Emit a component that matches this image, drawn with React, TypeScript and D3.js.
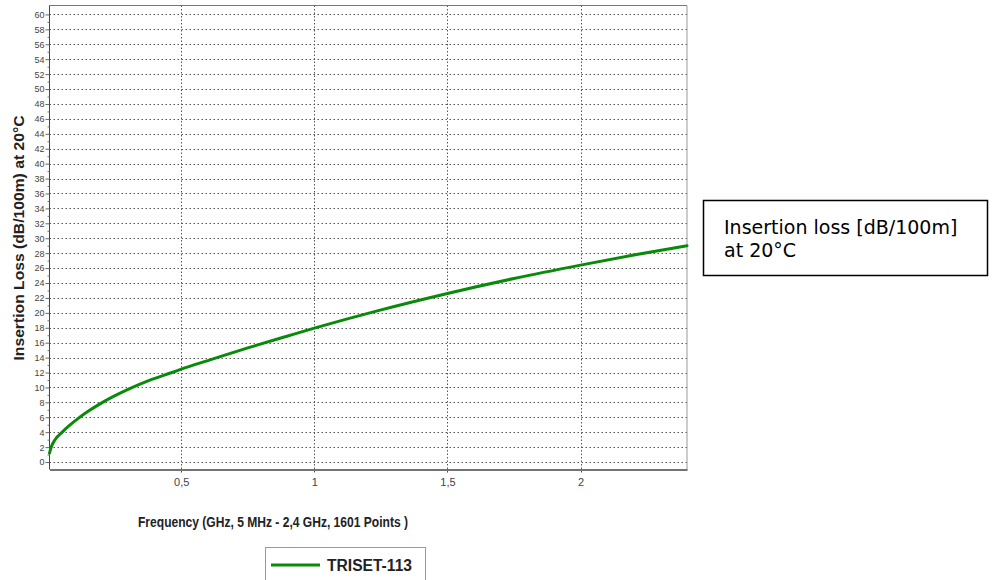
import React, { useEffect, useRef } from 'react';
import * as d3 from 'd3';

const freqGHz = [0.005, 0.011, 0.025, 0.051, 0.08, 0.113, 0.15, 0.19, 0.24, 0.3, 0.38, 0.465, 0.5, 0.6, 0.75, 0.9, 1.0, 1.24, 1.5, 1.75, 2.0, 2.2, 2.4];
const lossDb = [1.2, 1.95, 2.95, 3.95, 4.9, 5.85, 6.8, 7.7, 8.7, 9.75, 10.95, 12.0, 12.45, 13.6, 15.3, 16.9, 17.95, 20.3, 22.6, 24.6, 26.4, 27.75, 29.0];

const yTicks = [0, 2, 4, 6, 8, 10, 12, 14, 16, 18, 20, 22, 24, 26, 28, 30, 32, 34, 36, 38, 40, 42, 44, 46, 48, 50, 52, 54, 56, 58, 60];
const yMinorTicks = [1, 3, 5, 7, 9, 11, 13, 15, 17, 19, 21, 23, 25, 27, 29, 31, 33, 35, 37, 39, 41, 43, 45, 47, 49, 51, 53, 55, 57, 59];
const xTicks = [0.5, 1, 1.5, 2];
const xTickLabels = ['0,5', '1', '1,5', '2'];

const seriesName = 'TRISET-113';
const yTitle = 'Insertion Loss (dB/100m) at 20°C';
const xTitle = 'Frequency (GHz, 5 MHz - 2,4 GHz, 1601 Points )';
const noteLines = ['Insertion loss [dB/100m]', 'at 20°C'];

const App = () => {
  const svgRef = useRef<SVGSVGElement>(null);

  useEffect(() => {
    const svg = d3.select(svgRef.current);
    svg.selectAll('*').remove();

    const width = 995;
    const height = 580;
    const plot = { left: 49.5, right: 687, top: 5.5, bottom: 469.5 };
    const green = '#0a8a0a';
    const arial = '"Liberation Sans", Arial, sans-serif';

    const x = d3.scaleLinear().domain([0.005, 2.4]).range([plot.left, plot.right]);
    const y = d3.scaleLinear().domain([-1.0, 61.2]).range([plot.bottom, plot.top]);

    svg.attr('width', width).attr('height', height);

    // grid
    const grid = svg.append('g');
    grid.selectAll('line.h')
      .data(yTicks)
      .enter().append('line')
      .attr('x1', plot.left).attr('x2', plot.right)
      .attr('y1', d => Math.round(y(d)) + 0.5).attr('y2', d => Math.round(y(d)) + 0.5)
      .attr('stroke', '#555').attr('stroke-width', 1).attr('stroke-dasharray', '1.5,2.5');
    grid.selectAll('line.v')
      .data(xTicks)
      .enter().append('line')
      .attr('x1', d => Math.round(x(d)) + 0.5).attr('x2', d => Math.round(x(d)) + 0.5)
      .attr('y1', plot.top).attr('y2', plot.bottom + 4)
      .attr('stroke', '#555').attr('stroke-width', 1).attr('stroke-dasharray', '1.5,2');

    // frame
    svg.append('line').attr('x1', plot.left).attr('x2', plot.right).attr('y1', plot.top).attr('y2', plot.top)
      .attr('stroke', '#777');
    svg.append('line').attr('x1', plot.right).attr('x2', plot.right).attr('y1', plot.top).attr('y2', plot.bottom)
      .attr('stroke', '#999');

    // y axis
    const yAxis = svg.append('g')
      .attr('transform', `translate(${plot.left},0)`)
      .call(d3.axisLeft(y).tickValues(yTicks).tickSize(4).tickPadding(1).tickSizeOuter(0));
    svg.append('g')
      .attr('transform', `translate(${plot.left},0)`)
      .call(d3.axisLeft(y).tickValues(yMinorTicks).tickSize(2).tickFormat(() => '').tickSizeOuter(0))
      .call(g => g.select('.domain').remove())
      .selectAll('line').attr('stroke', '#777');
    yAxis.select('.domain').attr('stroke', '#444').attr('d', `M0,${plot.top}V${plot.bottom}`);
    yAxis.selectAll('line').attr('stroke', '#666');
    yAxis.selectAll('text')
      .attr('fill', '#444')
      .style('font-family', arial)
      .style('font-size', '9px');

    // x axis
    const xAxis = svg.append('g')
      .attr('transform', `translate(0,${plot.bottom})`)
      .call(d3.axisBottom(x).tickValues(xTicks).tickSize(0).tickPadding(9)
        .tickFormat((d, i) => xTickLabels[i]).tickSizeOuter(0));
    xAxis.select('.domain').attr('stroke', '#444').attr('stroke-width', 1.5);
    xAxis.selectAll('text')
      .attr('fill', '#444')
      .style('font-family', arial)
      .style('font-size', '11px');

    // series
    const line = d3.line<number>()
      .x((d, i) => x(freqGHz[i]))
      .y(d => y(d))
      .curve(d3.curveMonotoneX);
    svg.append('path')
      .datum(lossDb)
      .attr('d', line)
      .attr('fill', 'none')
      .attr('stroke', green)
      .attr('stroke-width', 3)
      .attr('stroke-linecap', 'round');

    // titles
    svg.append('text')
      .attr('transform', `translate(24,238) rotate(-90)`)
      .attr('text-anchor', 'middle')
      .attr('fill', '#222')
      .attr('textLength', 245)
      .attr('lengthAdjust', 'spacingAndGlyphs')
      .style('font-family', arial)
      .style('font-weight', 'bold')
      .style('font-size', '15px')
      .text(yTitle);
    svg.append('text')
      .attr('x', 273).attr('y', 527)
      .attr('text-anchor', 'middle')
      .attr('fill', '#222')
      .attr('textLength', 270)
      .attr('lengthAdjust', 'spacingAndGlyphs')
      .style('font-family', arial)
      .style('font-weight', 'bold')
      .style('font-size', '14.5px')
      .text(xTitle);

    // legend
    const legend = svg.append('g');
    legend.append('rect')
      .attr('x', 265.5).attr('y', 547.5).attr('width', 160).attr('height', 40)
      .attr('fill', 'white').attr('stroke', '#999');
    legend.append('line')
      .attr('x1', 271).attr('x2', 320).attr('y1', 565).attr('y2', 565)
      .attr('stroke', green).attr('stroke-width', 3);
    legend.append('text')
      .attr('x', 327).attr('y', 571)
      .attr('fill', '#222')
      .attr('textLength', 85)
      .attr('lengthAdjust', 'spacingAndGlyphs')
      .style('font-family', arial)
      .style('font-weight', 'bold')
      .style('font-size', '16px')
      .text(seriesName);

    // note box
    const note = svg.append('g');
    note.append('rect')
      .attr('x', 703.5).attr('y', 200.5).attr('width', 284).attr('height', 75)
      .attr('fill', 'white').attr('stroke', '#000').attr('stroke-width', 1.5);
    note.selectAll('text')
      .data(noteLines)
      .enter().append('text')
      .attr('x', 724)
      .attr('y', (d, i) => 234 + i * 23)
      .attr('fill', '#000')
      .style('font-family', '"DejaVu Sans", Verdana, sans-serif')
      .style('font-size', '19px')
      .text(d => d);
  }, []);

  return (
    <svg ref={svgRef} width="995" height="580" style={{ position: 'absolute', left: 0, top: 0 }}></svg>
  );
};

export default App;
